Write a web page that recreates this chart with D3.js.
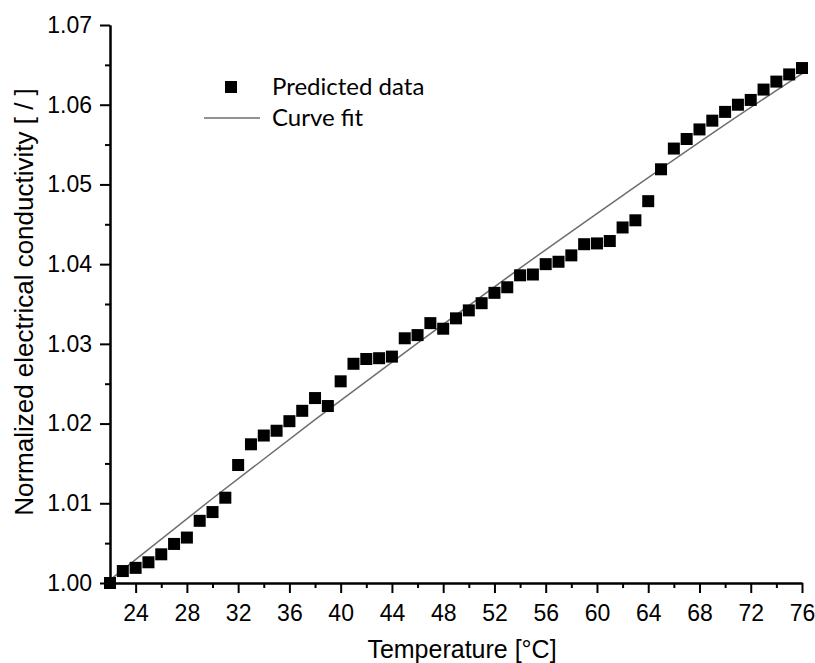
<!DOCTYPE html>
<html>
<head>
<meta charset="utf-8">
<script src="https://cdn.jsdelivr.net/npm/d3@7"></script>
<style>
  body { margin: 0; background: #fff; }
  svg { display: block; }
</style>
</head>
<body>
<div id="chart"></div>
<script>
// temperatures (°C) and predicted normalized conductivity
const temps = [22, 23, 24, 25, 26, 27, 28, 29, 30, 31, 32, 33, 34, 35, 36, 37, 38, 39, 40,
  41, 42, 43, 44, 45, 46, 47, 48, 49, 50, 51, 52, 53, 54, 55, 56, 57, 58, 59, 60,
  61, 62, 63, 64, 65, 66, 67, 68, 69, 70, 71, 72, 73, 74, 75, 76]
const predicted = [1.0000, 1.0015, 1.0019, 1.0026, 1.0036, 1.0049, 1.0057, 1.0078, 1.0089, 1.0107,
  1.0148, 1.0174, 1.0185, 1.0191, 1.0203, 1.0216, 1.0232, 1.0222, 1.0253, 1.0275,
  1.0281, 1.0282, 1.0284, 1.0307, 1.0311, 1.0326, 1.0319, 1.0332, 1.0342, 1.0351,
  1.0364, 1.0371, 1.0386, 1.0387, 1.0400, 1.0403, 1.0411, 1.0425, 1.0426, 1.0429,
  1.0446, 1.0455, 1.0479, 1.0519, 1.0545, 1.0557, 1.0569, 1.0580, 1.0591, 1.0600,
  1.0606, 1.0619, 1.0629, 1.0638, 1.0646]

// curve fit, read at a few temperatures
const fitTemps = [22, 30, 38, 46, 54, 62, 70, 76]
const fitValues = [1.0004, 1.0106, 1.0205, 1.0301, 1.0395, 1.0486, 1.0575, 1.0639]

const xTicks = [24, 28, 32, 36, 40, 44, 48, 52, 56, 60, 64, 68, 72, 76]
const xMinor = [22, 26, 30, 34, 38, 42, 46, 50, 54, 58, 62, 66, 70, 74]
const yTicks = [1.00, 1.01, 1.02, 1.03, 1.04, 1.05, 1.06, 1.07]
const yMinor = [1.005, 1.015, 1.025, 1.035, 1.045, 1.055, 1.065]

const legendLabels = ['Predicted data', 'Curve fit']

let margin = {top: 25, right: 13, bottom: 80, left: 110},
  width = 815 - margin.left - margin.right,
  height = 663 - margin.top - margin.bottom

let svg = d3.select('#chart')
  .append('svg')
    .attr('width', 815)
    .attr('height', 663)

let main = svg.append('g')
  .attr('transform', 'translate(' + margin.left + ',' + margin.top + ')')

let xScale = d3.scaleLinear().domain([22, 76]).range([0, width])
let yScale = d3.scaleLinear().domain([1.00, 1.07]).range([height, 0])

// minor ticks first, major axis on top
main.append('g').attr('class', 'axis')
  .attr('transform', 'translate(0,' + height + ')')
  .call(d3.axisBottom(xScale).tickValues(xMinor).tickSize(5).tickSizeOuter(0).tickFormat(''))
main.append('g').attr('class', 'axis')
  .call(d3.axisLeft(yScale).tickValues(yMinor).tickSize(5).tickSizeOuter(0).tickFormat(''))

main.append('g').attr('class', 'axis')
  .attr('transform', 'translate(0,' + height + ')')
  .call(d3.axisBottom(xScale).tickValues(xTicks).tickSize(10).tickSizeOuter(0).tickPadding(12))
main.append('g').attr('class', 'axis')
  .call(d3.axisLeft(yScale).tickValues(yTicks).tickSize(10).tickSizeOuter(0).tickPadding(8)
    .tickFormat(d3.format('.2f')))

svg.selectAll('.axis path, .axis line')
  .attr('stroke', '#000')
  .attr('stroke-width', 2)
svg.selectAll('.axis text')
  .attr('font-family', 'Liberation Sans, Arial, sans-serif')
  .attr('font-size', 23)
  .attr('fill', '#000')

// axis titles
svg.append('text')
  .attr('x', margin.left + width / 2 + 6)
  .attr('y', 658)
  .attr('text-anchor', 'middle')
  .attr('font-family', 'Liberation Sans, Arial, sans-serif')
  .attr('font-size', 25)
  .text('Temperature [°C]')

svg.append('text')
  .attr('transform', 'translate(33,' + 302 + ') rotate(-90)')
  .attr('text-anchor', 'middle')
  .attr('font-family', 'Liberation Sans, Arial, sans-serif')
  .attr('font-size', 26)
  .text('Normalized electrical conductivity [ / ]')

// fit curve
let fitData = fitTemps.map((t, i) => ({t: t, v: fitValues[i]}))
main.append('path')
  .datum(fitData)
  .attr('fill', 'none')
  .attr('stroke', '#6e6e6e')
  .attr('stroke-width', 1.5)
  .attr('d', d3.line().x(d => xScale(d.t)).y(d => yScale(d.v)).curve(d3.curveMonotoneX))

// data squares
let sz = 12
main.append('g')
  .selectAll('rect')
  .data(temps.map((t, i) => ({t: t, v: predicted[i]})))
  .join('rect')
    .attr('x', d => xScale(d.t) - sz / 2)
    .attr('y', d => yScale(d.v) - sz / 2)
    .attr('width', sz)
    .attr('height', sz)
    .attr('fill', '#000')

// legend
let legend = svg.append('g')
legend.append('rect')
  .attr('x', 225).attr('y', 81).attr('width', 12).attr('height', 12)
  .attr('fill', '#000')
legend.append('line')
  .attr('x1', 204).attr('x2', 260).attr('y1', 118).attr('y2', 118)
  .attr('stroke', '#6e6e6e').attr('stroke-width', 1.5)
legend.selectAll('text')
  .data(legendLabels)
  .join('text')
    .attr('x', 272)
    .attr('y', (d, i) => 95 + i * 31)
    .attr('font-family', 'Lato, Open Sans, sans-serif')
    .attr('font-size', 24)
    .attr('fill', '#000')
    .text(d => d)
</script>
</body>
</html>
